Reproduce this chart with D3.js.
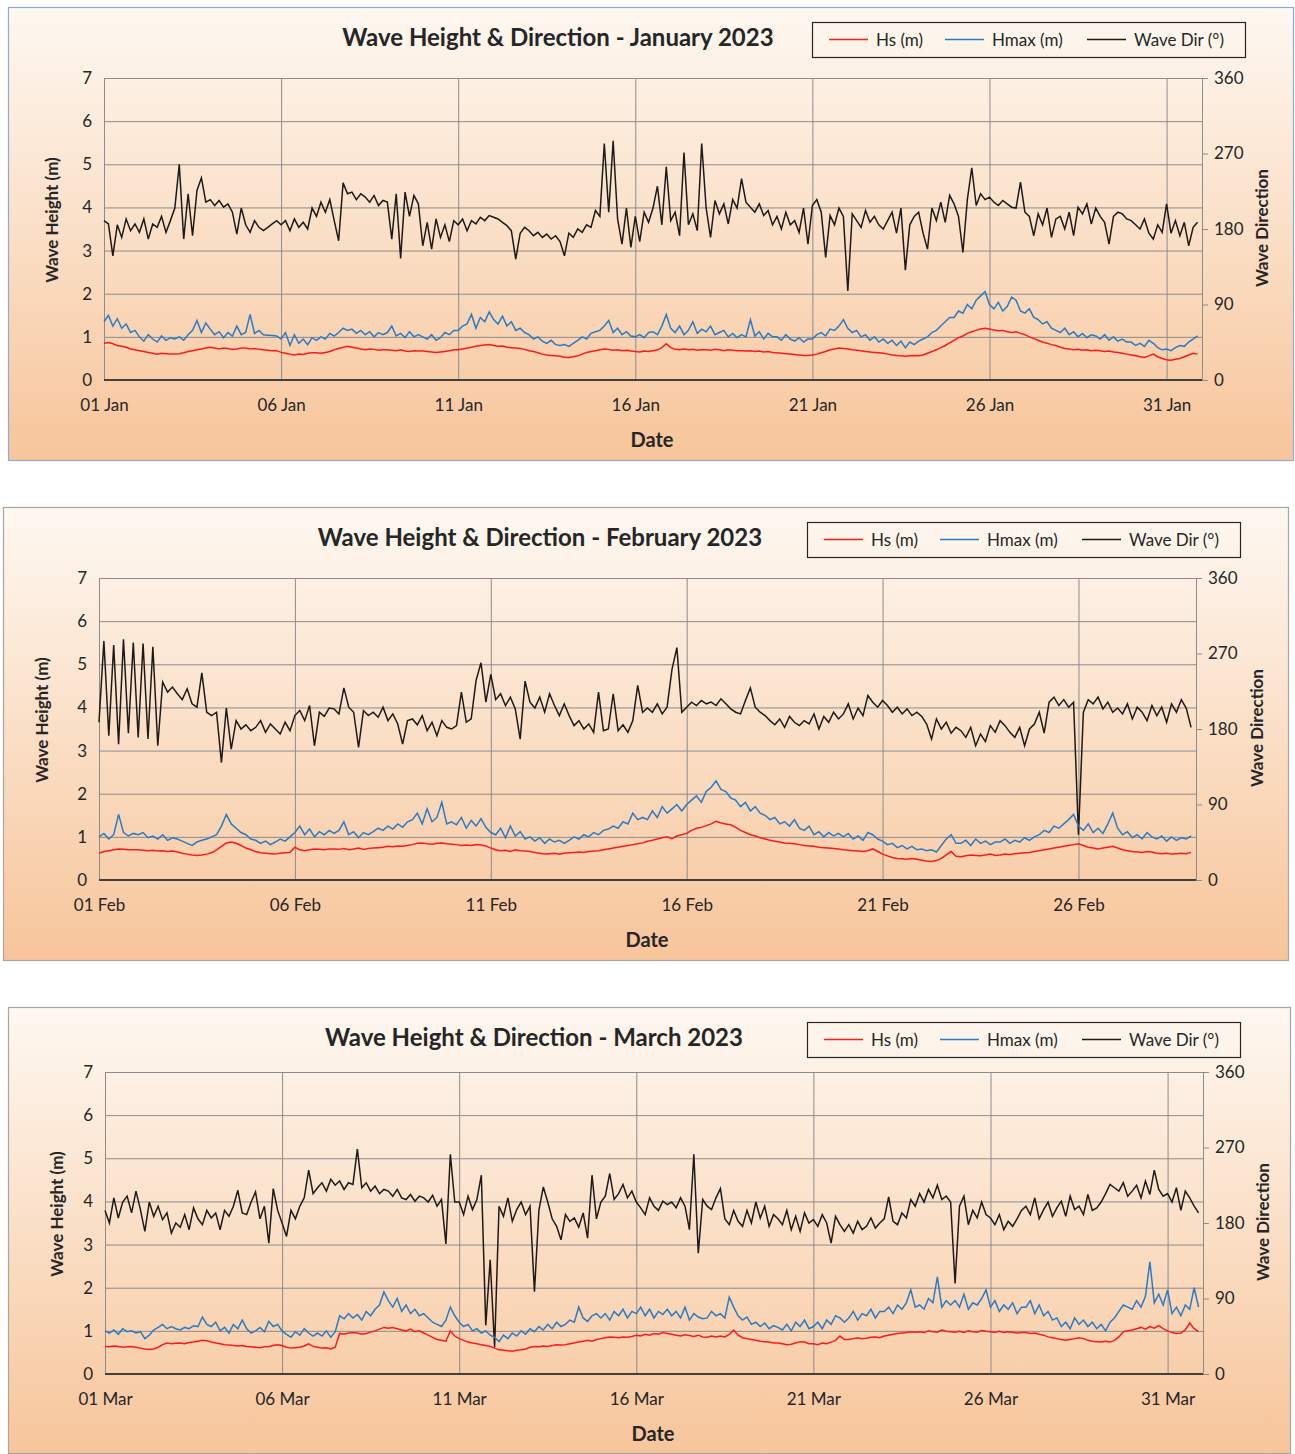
<!DOCTYPE html>
<html>
<head>
<meta charset="utf-8">
<script src="https://cdn.jsdelivr.net/npm/d3@7"></script>
<style>
  body { margin: 0; background: #fff; }
  text { font-family: Lato, "Open Sans", sans-serif; fill: #262626; }
</style>
</head>
<body>
<svg id="chart" width="1295" height="1454"></svg>
<script>
// 3-hourly readings, 8 per day
const janHs = [
  0.85,0.87,0.84,0.80,0.78,0.76,0.72,0.70, 0.68,0.66,0.64,0.62,0.60,0.62,0.61,0.60,
  0.60,0.61,0.63,0.66,0.68,0.70,0.72,0.74, 0.76,0.74,0.72,0.74,0.73,0.71,0.72,0.74,
  0.74,0.72,0.73,0.71,0.70,0.69,0.68,0.68, 0.64,0.62,0.60,0.58,0.60,0.59,0.62,0.63,
  0.63,0.62,0.64,0.66,0.70,0.73,0.76,0.78, 0.76,0.74,0.72,0.70,0.72,0.71,0.69,0.70,
  0.70,0.69,0.68,0.70,0.67,0.66,0.68,0.67, 0.67,0.66,0.65,0.64,0.65,0.66,0.68,0.70,
  0.70,0.72,0.74,0.76,0.78,0.80,0.81,0.82, 0.80,0.78,0.79,0.76,0.75,0.74,0.73,0.71,
  0.68,0.66,0.63,0.60,0.58,0.57,0.56,0.55, 0.53,0.52,0.54,0.56,0.60,0.64,0.66,0.68,
  0.70,0.72,0.71,0.69,0.70,0.68,0.69,0.67, 0.66,0.65,0.67,0.66,0.68,0.70,0.75,0.84,
  0.75,0.71,0.70,0.72,0.70,0.71,0.69,0.70, 0.70,0.69,0.71,0.70,0.68,0.70,0.69,0.68,
  0.68,0.67,0.68,0.66,0.67,0.65,0.66,0.64, 0.63,0.62,0.61,0.60,0.59,0.58,0.57,0.57,
  0.58,0.60,0.63,0.66,0.70,0.72,0.74,0.73, 0.72,0.70,0.69,0.68,0.66,0.65,0.64,0.63,
  0.62,0.60,0.58,0.57,0.56,0.55,0.56,0.57, 0.56,0.58,0.62,0.66,0.70,0.75,0.80,0.86,
  0.92,0.98,1.02,1.08,1.12,1.15,1.18,1.20, 1.18,1.16,1.14,1.15,1.12,1.10,1.12,1.08,
  1.05,1.00,0.96,0.92,0.88,0.85,0.82,0.80, 0.76,0.73,0.72,0.70,0.71,0.69,0.70,0.68,
  0.69,0.68,0.66,0.67,0.65,0.64,0.62,0.60, 0.58,0.56,0.54,0.52,0.56,0.60,0.54,0.50,
  0.47,0.46,0.48,0.50,0.54,0.58,0.62,0.60
];
const janHmax = [
  1.35,1.50,1.25,1.42,1.20,1.30,1.10,1.15, 1.00,0.90,1.05,0.95,0.88,1.02,0.92,0.98,
  0.95,1.00,0.92,1.05,1.15,1.38,1.10,1.32, 1.18,1.05,1.12,0.98,1.10,1.02,1.25,1.05,
  1.10,1.52,1.08,1.15,1.05,1.04,1.03,1.02, 0.95,1.10,0.80,1.05,0.85,0.95,0.82,0.98,
  0.92,1.00,0.95,1.08,1.02,1.10,1.20,1.15, 1.18,1.08,1.15,1.05,1.12,1.00,1.10,1.05,
  1.10,1.25,1.02,1.08,0.98,1.12,1.00,1.05, 1.00,0.95,1.05,0.92,0.98,1.10,1.05,1.15,
  1.15,1.25,1.30,1.52,1.20,1.45,1.35,1.58, 1.40,1.30,1.48,1.25,1.35,1.15,1.20,1.10,
  1.05,0.95,1.00,0.90,0.85,0.92,0.82,0.80, 0.82,0.78,0.85,0.92,1.00,0.95,1.08,1.12,
  1.15,1.25,1.38,1.10,1.20,1.05,1.12,1.02, 1.00,1.05,0.98,1.10,1.12,1.05,1.25,1.52,
  1.20,1.10,1.25,1.05,1.15,1.35,1.08,1.18, 1.12,1.25,1.05,1.10,1.15,1.00,1.08,0.98,
  1.05,1.00,1.40,1.02,1.12,0.95,1.08,1.00, 1.00,0.92,1.05,0.95,0.90,0.98,0.88,0.95,
  0.95,1.05,1.10,1.02,1.18,1.15,1.25,1.40, 1.20,1.10,1.15,1.00,1.05,0.92,1.00,0.88,
  0.95,0.85,0.92,0.80,0.90,0.75,0.88,0.82, 0.90,0.95,1.00,1.10,1.15,1.25,1.35,1.45,
  1.45,1.60,1.55,1.75,1.65,1.85,1.95,2.05, 1.75,1.65,1.80,1.60,1.70,1.92,1.85,1.60,
  1.55,1.65,1.45,1.40,1.30,1.35,1.20,1.15, 1.10,1.20,1.05,1.12,1.00,1.08,0.98,1.05,
  1.02,0.95,1.05,0.92,1.00,0.90,0.95,0.88, 0.88,0.80,0.85,0.78,0.92,0.85,0.75,0.70,
  0.72,0.68,0.75,0.80,0.78,0.88,0.95,1.02
];
const janDir = [
  190,186,148,185,170,192,178,186, 176,192,168,186,182,195,176,190,
  205,257,168,222,172,226,241,212, 215,208,214,206,210,200,174,205,
  185,176,190,182,178,182,186,190, 185,190,178,192,182,188,180,205,
  195,212,200,215,190,166,235,222, 224,215,222,218,212,220,208,214,
  212,168,222,145,224,195,220,210, 160,188,156,192,170,185,165,190,
  185,192,178,190,186,194,190,196, 194,192,188,184,178,144,175,182,
  178,172,176,170,174,168,172,165, 148,175,170,180,176,185,182,202,
  195,282,200,285,192,162,205,158, 195,165,200,188,205,231,185,254,
  190,200,172,271,185,198,178,282, 205,170,214,198,210,186,215,205,
  240,212,206,200,210,196,202,185, 195,180,200,185,190,176,205,162,
  208,215,200,146,196,185,205,195, 106,198,190,182,202,188,195,185,
  180,190,200,175,205,131,185,195, 200,175,156,205,190,212,188,220,
  210,195,152,215,253,208,222,215, 218,212,208,214,210,206,205,236,
  200,195,172,198,185,205,170,192, 195,180,200,172,206,198,210,186,
  205,195,188,162,195,200,198,192, 190,185,180,192,175,168,185,176,
  210,175,190,172,188,160,182,188
];

const febHs = [
  0.62,0.66,0.68,0.70,0.72,0.71,0.70,0.70, 0.70,0.69,0.68,0.69,0.67,0.68,0.66,0.67,
  0.65,0.62,0.60,0.58,0.57,0.58,0.60,0.63, 0.70,0.78,0.86,0.88,0.85,0.80,0.74,0.70,
  0.66,0.63,0.62,0.61,0.60,0.62,0.63,0.64, 0.76,0.70,0.68,0.70,0.72,0.71,0.70,0.72,
  0.72,0.71,0.73,0.70,0.72,0.74,0.71,0.73, 0.74,0.75,0.76,0.78,0.77,0.79,0.78,0.80,
  0.82,0.85,0.86,0.84,0.83,0.85,0.86,0.84, 0.83,0.82,0.80,0.81,0.80,0.82,0.81,0.79,
  0.74,0.70,0.68,0.69,0.66,0.70,0.68,0.67, 0.66,0.64,0.62,0.60,0.61,0.62,0.60,0.62,
  0.63,0.64,0.65,0.64,0.66,0.67,0.68,0.70, 0.72,0.74,0.76,0.78,0.80,0.82,0.84,0.86,
  0.90,0.92,0.95,0.98,1.00,0.96,1.02,1.05, 1.08,1.15,1.20,1.22,1.26,1.30,1.36,1.32,
  1.30,1.28,1.22,1.15,1.10,1.05,1.02,0.98, 0.95,0.92,0.90,0.88,0.86,0.85,0.84,0.82,
  0.80,0.79,0.78,0.76,0.75,0.74,0.73,0.72, 0.70,0.69,0.68,0.67,0.66,0.68,0.72,0.66,
  0.60,0.56,0.52,0.50,0.49,0.48,0.50,0.48, 0.46,0.44,0.43,0.45,0.50,0.58,0.66,0.55,
  0.54,0.56,0.58,0.57,0.56,0.58,0.60,0.57, 0.58,0.60,0.59,0.61,0.62,0.63,0.64,0.66,
  0.68,0.70,0.72,0.74,0.76,0.78,0.80,0.82, 0.84,0.80,0.76,0.74,0.72,0.74,0.76,0.78,
  0.74,0.70,0.68,0.66,0.65,0.64,0.66,0.65, 0.62,0.61,0.62,0.60,0.61,0.62,0.61,0.64
];
const febHmax = [
  1.00,1.08,0.95,1.05,1.52,1.10,1.02,1.08, 1.05,1.10,0.98,1.02,0.95,1.05,0.92,0.98,
  0.95,0.90,0.85,0.80,0.88,0.92,0.95,1.00, 1.05,1.25,1.52,1.30,1.20,1.10,1.05,0.95,
  0.92,0.85,0.90,0.82,0.88,0.95,0.90,1.00, 1.10,1.25,1.05,1.18,1.00,1.12,1.05,1.15,
  1.08,1.15,1.35,1.05,1.12,0.98,1.10,1.05, 1.12,1.20,1.15,1.25,1.18,1.30,1.22,1.35,
  1.40,1.55,1.30,1.65,1.35,1.45,1.80,1.30, 1.35,1.28,1.45,1.20,1.38,1.25,1.42,1.22,
  1.10,1.05,1.20,0.98,1.25,1.02,1.12,0.95, 1.00,0.90,0.98,0.85,0.95,0.88,0.92,0.85,
  0.92,1.00,0.95,1.05,1.00,1.10,1.05,1.15, 1.18,1.25,1.20,1.35,1.30,1.55,1.40,1.45,
  1.40,1.60,1.45,1.70,1.55,1.65,1.75,1.60, 1.75,1.85,1.95,1.80,2.05,2.15,2.30,2.10,
  2.05,1.90,1.85,1.70,1.80,1.60,1.70,1.55, 1.50,1.40,1.45,1.30,1.35,1.25,1.40,1.20,
  1.15,1.25,1.05,1.12,1.00,1.10,1.02,1.08, 1.00,1.08,0.95,1.02,0.92,1.10,1.05,0.95,
  0.90,0.82,0.85,0.75,0.80,0.72,0.78,0.70, 0.72,0.68,0.70,0.65,0.80,0.95,1.05,0.85,
  0.85,0.92,0.80,0.95,0.85,0.90,0.82,0.88, 0.88,0.95,0.85,0.92,0.88,0.98,0.92,1.00,
  1.05,1.15,1.10,1.25,1.20,1.30,1.40,1.52, 1.25,1.15,1.30,1.10,1.20,1.08,1.30,1.55,
  1.20,1.05,1.12,0.98,1.05,0.95,1.10,1.00, 0.95,1.02,0.90,1.00,0.92,0.98,0.95,1.02
];
const febDir = [
  188,285,172,280,162,287,175,283, 170,282,168,278,160,236,224,230,
  222,215,228,210,206,247,200,196, 200,140,205,156,190,180,185,178,
  182,190,176,186,180,174,188,178, 196,202,190,208,160,200,195,205,
  204,198,229,206,200,158,202,196, 200,194,206,190,198,186,162,190,
  192,185,196,178,188,172,190,182, 180,184,224,188,192,238,259,212,
  245,215,222,208,218,204,168,237, 212,205,218,200,222,208,196,210,
  196,184,190,180,186,176,224,178, 180,222,178,185,176,190,232,200,
  205,200,210,198,206,251,277,200, 206,212,208,214,210,212,208,216,
  210,204,200,198,214,229,206,200, 196,190,185,192,182,195,188,184,
  190,186,198,180,195,188,200,192, 198,210,192,205,196,220,212,206,
  214,208,200,206,198,204,196,200, 195,186,168,192,180,188,175,182,
  178,170,182,160,174,165,184,176, 190,184,176,170,182,160,180,186,
  200,175,212,218,208,215,206,212,  54,200,215,210,218,204,212,200,
  205,198,210,192,206,200,190,208, 196,206,188,210,200,215,205,182
];

const marHs = [
  0.64,0.63,0.65,0.64,0.62,0.63,0.64,0.62, 0.60,0.58,0.57,0.58,0.62,0.68,0.72,0.70,
  0.71,0.72,0.70,0.73,0.74,0.76,0.78,0.77, 0.74,0.72,0.70,0.68,0.67,0.66,0.65,0.66,
  0.64,0.63,0.62,0.61,0.63,0.64,0.66,0.68, 0.66,0.62,0.60,0.61,0.62,0.65,0.70,0.64,
  0.62,0.60,0.61,0.58,0.62,0.94,0.92,0.95, 0.96,0.95,0.92,0.94,0.97,1.00,1.04,1.08,
  1.06,1.08,1.05,1.02,1.00,1.04,0.98,1.00, 0.95,0.90,0.85,0.80,0.78,0.76,1.00,0.88,
  0.82,0.78,0.74,0.72,0.70,0.68,0.66,0.64, 0.60,0.56,0.55,0.54,0.53,0.55,0.56,0.58,
  0.62,0.64,0.63,0.65,0.64,0.66,0.68,0.67, 0.68,0.70,0.72,0.74,0.76,0.78,0.76,0.80,
  0.82,0.84,0.86,0.85,0.84,0.86,0.85,0.87, 0.90,0.88,0.92,0.90,0.94,0.92,0.96,0.94,
  0.92,0.90,0.88,0.91,0.89,0.87,0.90,0.86, 0.85,0.88,0.86,0.88,0.86,0.92,1.02,0.90,
  0.84,0.82,0.80,0.78,0.76,0.75,0.74,0.72, 0.72,0.70,0.68,0.69,0.72,0.75,0.74,0.70,
  0.70,0.68,0.72,0.70,0.74,0.78,0.88,0.80, 0.80,0.82,0.84,0.82,0.83,0.85,0.86,0.84,
  0.88,0.90,0.92,0.94,0.95,0.96,0.98,0.97, 0.98,0.96,1.00,0.98,0.97,1.02,0.99,0.98,
  0.97,0.99,0.96,1.00,0.98,0.97,1.01,0.99, 0.98,0.97,0.99,0.96,0.98,0.97,0.95,0.96,
  0.96,0.94,0.95,0.92,0.90,0.86,0.84,0.82, 0.80,0.78,0.80,0.82,0.84,0.82,0.78,0.76,
  0.75,0.74,0.76,0.74,0.78,0.86,0.98,1.00, 1.02,1.05,1.08,1.04,1.10,1.06,1.12,1.05,
  1.00,0.96,0.94,0.95,1.02,1.18,1.05,0.98
];
const marHmax = [
  1.00,0.95,1.02,0.92,1.05,0.98,1.00,0.95, 0.98,0.82,0.90,1.02,1.08,1.15,1.05,1.10,
  1.05,1.02,1.08,1.05,1.12,1.10,1.32,1.15, 1.10,1.20,1.00,1.08,0.95,1.15,1.05,1.25,
  1.05,0.95,1.00,1.08,0.98,1.22,1.10,1.15, 1.00,0.92,0.85,0.98,0.90,1.05,0.95,0.88,
  0.95,0.88,1.00,0.85,0.98,1.35,1.28,1.40, 1.30,1.38,1.25,1.45,1.35,1.50,1.60,1.90,
  1.70,1.55,1.75,1.45,1.60,1.40,1.50,1.35, 1.40,1.30,1.20,1.15,1.10,1.25,1.55,1.35,
  1.20,1.10,1.15,1.00,1.05,0.95,1.00,0.90, 0.85,0.75,0.90,0.82,0.95,0.88,1.00,0.92,
  1.05,0.98,1.10,1.02,1.15,1.05,1.20,1.10, 1.15,1.25,1.20,1.55,1.30,1.22,1.35,1.40,
  1.30,1.40,1.25,1.45,1.35,1.50,1.30,1.45, 1.40,1.55,1.35,1.50,1.30,1.45,1.38,1.50,
  1.35,1.45,1.30,1.55,1.25,1.40,1.32,1.28, 1.30,1.45,1.35,1.40,1.30,1.78,1.55,1.35,
  1.25,1.32,1.15,1.20,1.10,1.18,1.05,1.12, 1.08,1.02,1.15,1.00,1.20,1.10,1.25,1.05,
  1.10,1.20,1.05,1.25,1.15,1.35,1.30,1.20, 1.30,1.45,1.25,1.40,1.35,1.50,1.30,1.45,
  1.45,1.55,1.40,1.60,1.50,1.65,1.95,1.55, 1.60,1.50,1.75,1.65,2.25,1.55,1.70,1.60,
  1.70,1.55,1.85,1.50,1.65,1.60,1.75,1.95, 1.55,1.70,1.45,1.60,1.50,1.65,1.40,1.55,
  1.55,1.70,1.40,1.60,1.35,1.45,1.25,1.30, 1.10,1.20,1.05,1.30,1.15,1.25,1.10,1.20,
  1.05,1.15,1.00,1.20,1.30,1.45,1.60,1.55, 1.50,1.70,1.55,1.80,2.60,1.65,1.85,1.60,
  1.95,1.40,1.55,1.35,1.60,1.50,2.00,1.55
];
const marDir = [
  195,180,210,186,205,212,192,218, 196,170,205,188,200,184,192,168,
  180,175,190,172,198,185,178,195, 186,192,172,195,188,200,219,192,
  190,205,217,185,200,156,221,195, 180,164,195,185,200,210,243,215,
  222,228,218,232,225,230,220,228, 226,268,222,228,218,224,215,220,
  218,212,220,210,208,214,206,212, 210,205,213,200,208,155,262,205,
  205,190,212,196,208,237, 58,136,  32,200,188,210,182,196,205,190,
  200, 98,195,223,205,185,176,160, 190,182,186,175,192,162,237,185,
  205,212,239,208,215,226,210,218, 205,198,190,210,200,195,206,202,
  205,198,210,200,172,262,144,208, 200,196,210,221,185,178,195,182,
  176,195,180,205,186,200,176,190, 185,178,195,172,188,170,192,180,
  184,176,190,180,156,188,178,170, 178,168,182,172,176,186,174,180,
  185,211,182,178,192,186,208,200, 215,205,220,210,225,208,212,205,
  108,200,212,178,195,186,205,190, 186,178,190,172,182,176,185,195,
  200,190,210,185,196,205,188,198, 206,188,212,196,200,190,214,195,
  198,205,215,226,222,218,228,212, 218,225,210,230,214,243,220,212,
  215,205,222,195,218,210,200,192
];

const tickDays = [1, 6, 11, 16, 21, 26, 31];
const heightTicks = [0, 1, 2, 3, 4, 5, 6, 7];
const dirTicks = [0, 90, 180, 270, 360];
const seriesNames = ["Hs (m)", "Hmax (m)", "Wave Dir (°)"];
const seriesColors = ["#ff1a1a", "#2b7bc4", "#1e1a18"];

const panels = [
  { title: "Wave Height & Direction - January 2023", month: 0, days: 31,
    hs: janHs, hmax: janHmax, dir: janDir,
    box: { x: 8, y: 7, w: 1285, h: 453 }, border: "#8eaadb",
    plot: { l: 104, r: 1202, t: 78, b: 380 },
    titleX: 558, legendX: 812, leftTitleX: 52, rightTitleX: 1262, dateX: 652 },
  { title: "Wave Height & Direction - February 2023", month: 1, days: 28,
    hs: febHs, hmax: febHmax, dir: febDir,
    box: { x: 3, y: 507, w: 1285, h: 453 }, border: "#a6a6a6",
    plot: { l: 99, r: 1196, t: 578, b: 880 },
    titleX: 540, legendX: 807, leftTitleX: 42, rightTitleX: 1257, dateX: 647 },
  { title: "Wave Height & Direction - March 2023", month: 2, days: 31,
    hs: marHs, hmax: marHmax, dir: marDir,
    box: { x: 8, y: 1007, w: 1282, h: 446 }, border: "#a6a6a6",
    plot: { l: 105, r: 1203, t: 1072, b: 1374 },
    titleX: 534, legendX: 807, leftTitleX: 57, rightTitleX: 1263, dateX: 653 }
];

const svg = d3.select("#chart");
const defs = svg.append("defs");
const grad = defs.append("linearGradient")
  .attr("id", "bg").attr("x1", 0).attr("y1", 0).attr("x2", 0).attr("y2", 1);
grad.append("stop").attr("offset", "0%").attr("stop-color", "#fef8f1");
grad.append("stop").attr("offset", "40%").attr("stop-color", "#fbe4cf");
grad.append("stop").attr("offset", "100%").attr("stop-color", "#f7c59a");

const stepMs = 3 * 3600 * 1000;
const fmt = d3.utcFormat("%d %b");

panels.forEach(p => drawPanel(p));

function drawPanel(p) {
  const g = svg.append("g");
  const { l, r, t, b } = p.plot;
  const start = Date.UTC(2023, p.month, 1);

  g.append("rect")
    .attr("x", p.box.x + 0.5).attr("y", p.box.y + 0.5)
    .attr("width", p.box.w).attr("height", p.box.h)
    .attr("fill", "url(#bg)")
    .attr("stroke", p.border).attr("stroke-width", 1.2);

  const x = d3.scaleUtc()
    .domain([new Date(start), new Date(start + p.days * 86400000)])
    .range([l, r]);
  const yH = d3.scaleLinear().domain([0, 7]).range([b, t]);
  const yD = d3.scaleLinear().domain([0, 360]).range([b, t]);

  // horizontal grid + left labels
  const left = g.append("g")
    .attr("transform", `translate(${l},0)`)
    .call(d3.axisLeft(yH).tickValues(heightTicks).tickSize(-(r - l)).tickPadding(12).tickFormat(d3.format("d")));
  left.select(".domain").attr("stroke", "#8c8c8c");
  left.selectAll(".tick line").attr("stroke", "#8c8c8c");
  left.selectAll(".tick text").style("font-size", "17px");

  // vertical grid + date labels (only days inside this month)
  const tickDates = tickDays.filter(d => d <= p.days).map(d => new Date(Date.UTC(2023, p.month, d)));
  const bottom = g.append("g")
    .attr("transform", `translate(0,${b})`)
    .call(d3.axisBottom(x).tickValues(tickDates).tickSize(-(b - t)).tickPadding(19).tickFormat(fmt));
  bottom.select(".domain").remove();
  bottom.selectAll(".tick line").attr("stroke", "#8c8c8c");
  bottom.selectAll(".tick text").style("font-size", "17px");

  // right axis (direction)
  const right = g.append("g")
    .attr("transform", `translate(${r},0)`)
    .call(d3.axisRight(yD).tickValues(dirTicks).tickSize(6).tickPadding(6));
  right.select(".domain").attr("stroke", "#8c8c8c");
  right.selectAll(".tick line").attr("stroke", "#8c8c8c");
  right.selectAll(".tick text").style("font-size", "17px");

  // x axis base line
  g.append("line")
    .attr("x1", l).attr("x2", r).attr("y1", b).attr("y2", b)
    .attr("stroke", "#404040").attr("stroke-width", 2);

  const timeAt = i => new Date(start + i * stepMs);
  const lineH = d3.line().x((d, i) => x(timeAt(i))).y(d => yH(d));
  const lineD = d3.line().x((d, i) => x(timeAt(i))).y(d => yD(d));

  g.append("path").datum(p.dir).attr("d", lineD)
    .attr("fill", "none").attr("stroke", seriesColors[2]).attr("stroke-width", 1.5);
  g.append("path").datum(p.hmax).attr("d", lineH)
    .attr("fill", "none").attr("stroke", seriesColors[1]).attr("stroke-width", 1.5);
  g.append("path").datum(p.hs).attr("d", lineH)
    .attr("fill", "none").attr("stroke", seriesColors[0]).attr("stroke-width", 1.5);

  // title
  g.append("text")
    .attr("x", p.titleX).attr("y", p.box.y + 39)
    .attr("text-anchor", "middle")
    .style("font-size", "24px").style("font-weight", "bold")
    .text(p.title);

  // legend
  const ly = p.box.y + 15;
  const legend = g.append("g").attr("transform", `translate(${p.legendX},${ly})`);
  legend.append("rect")
    .attr("x", 0.5).attr("y", 0.5).attr("width", 433).attr("height", 35)
    .attr("fill", "none").attr("stroke", "#262626").attr("stroke-width", 1.2);
  const offs = [17, 133, 275];
  seriesNames.forEach((name, i) => {
    legend.append("line")
      .attr("x1", offs[i]).attr("x2", offs[i] + 39)
      .attr("y1", 17.5).attr("y2", 17.5)
      .attr("stroke", seriesColors[i]).attr("stroke-width", 1.6);
    legend.append("text")
      .attr("x", offs[i] + 47).attr("y", 23.5)
      .style("font-size", "17px")
      .text(name);
  });

  // axis titles
  const midY = (t + b) / 2;
  g.append("text")
    .attr("transform", `translate(${p.leftTitleX},${midY - 9}) rotate(-90)`)
    .attr("text-anchor", "middle").attr("dy", "0.35em")
    .style("font-size", "17px").style("font-weight", "bold")
    .text("Wave Height (m)");
  g.append("text")
    .attr("transform", `translate(${p.rightTitleX},${midY - 1}) rotate(-90)`)
    .attr("text-anchor", "middle").attr("dy", "0.35em")
    .style("font-size", "17px").style("font-weight", "bold")
    .text("Wave Direction");
  g.append("text")
    .attr("x", p.dateX).attr("y", b + 60)
    .attr("text-anchor", "middle").attr("dy", "0.35em")
    .style("font-size", "20px").style("font-weight", "bold")
    .text("Date");
}
</script>
</body>
</html>
